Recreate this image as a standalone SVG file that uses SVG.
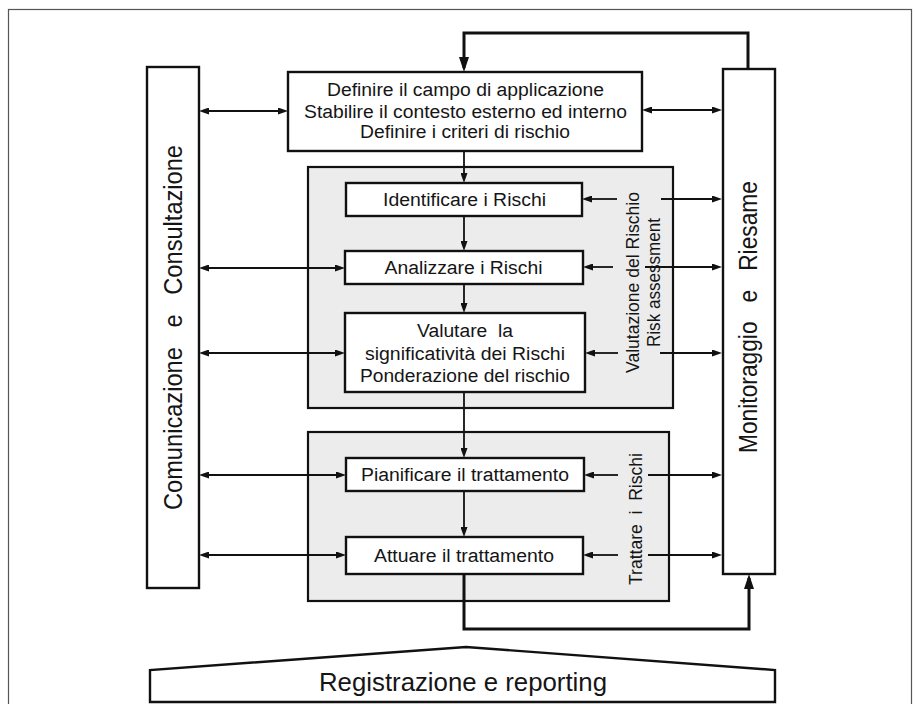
<svg xmlns="http://www.w3.org/2000/svg" width="915" height="704" viewBox="0 0 915 704">
<style>
.box{fill:#fff;stroke:#111;stroke-width:2.4}
.grp{fill:#ececec;stroke:#111;stroke-width:2.2}
.t{font-family:"Liberation Sans",Arial,Helvetica,sans-serif;fill:#151515;font-size:18px;text-anchor:middle;white-space:pre}
.big{font-size:25px}
.c{fill:none;stroke:#111;stroke-width:1.8}
.ct{fill:none;stroke:#111;stroke-width:3}
</style>
<defs>
<marker id="ah" markerUnits="userSpaceOnUse" markerWidth="10" markerHeight="7" refX="7" refY="3.5" orient="auto-start-reverse"><path d="M0,0 L10,3.5 L0,7 z" fill="#111"/></marker>
<marker id="ahb" markerUnits="userSpaceOnUse" markerWidth="15" markerHeight="10" refX="11" refY="5" orient="auto-start-reverse"><path d="M0,0 L15,5 L0,10 z" fill="#111"/></marker>
</defs>
<rect x="8.5" y="9.5" width="903" height="700" fill="none" stroke="#555" stroke-width="1.2"/>

<g id="comunicazione">
<rect class="box" x="147" y="67" width="52" height="521"/>
<text class="t big" xml:space="preserve" transform="translate(182,327.5) rotate(-90)" textLength="365" lengthAdjust="spacingAndGlyphs">Comunicazione   e   Consultazione</text>
</g>
<g id="monitoraggio">
<rect class="box" x="723" y="69" width="52" height="505"/>
<text class="t big" xml:space="preserve" transform="translate(757,317) rotate(-90)" textLength="272" lengthAdjust="spacingAndGlyphs">Monitoraggio   e   Riesame</text>
</g>
<g id="contesto">
<rect class="box" x="288" y="72" width="354" height="79"/>
<text class="t" x="465.5" y="96" textLength="277" lengthAdjust="spacingAndGlyphs">Definire il campo di applicazione</text>
<text class="t" x="465.5" y="117.5" textLength="323" lengthAdjust="spacingAndGlyphs">Stabilire il contesto esterno ed interno</text>
<text class="t" x="465" y="138" textLength="210" lengthAdjust="spacingAndGlyphs">Definire i criteri di rischio</text>
</g>
<g id="valutazione">
<rect class="grp" x="308" y="167" width="365" height="241"/>
<text class="t" transform="translate(639,282.5) rotate(-90)" textLength="181" lengthAdjust="spacingAndGlyphs">Valutazione del Rischio</text>
<text class="t" transform="translate(660,282.5) rotate(-90)" textLength="129" lengthAdjust="spacingAndGlyphs">Risk assessment</text>
</g>
<g id="identificare">
<rect class="box" x="346" y="183" width="236" height="33"/>
<text class="t" x="464.5" y="206" textLength="163" lengthAdjust="spacingAndGlyphs">Identificare i Rischi</text>
</g>
<g id="analizzare">
<rect class="box" x="345" y="251" width="238" height="33"/>
<text class="t" x="463.5" y="274" textLength="158" lengthAdjust="spacingAndGlyphs">Analizzare i Rischi</text>
</g>
<g id="valutare">
<rect class="box" x="345" y="313" width="240" height="79"/>
<text class="t" xml:space="preserve" x="465" y="337" textLength="96" lengthAdjust="spacingAndGlyphs">Valutare  la</text>
<text class="t" x="465" y="359.5" textLength="200" lengthAdjust="spacingAndGlyphs">significatività dei Rischi</text>
<text class="t" x="465" y="381.5" textLength="210" lengthAdjust="spacingAndGlyphs">Ponderazione del rischio</text>
</g>
<g id="trattare">
<rect class="grp" x="308" y="432" width="361" height="169"/>
<text class="t" xml:space="preserve" transform="translate(642,519) rotate(-90)" textLength="132" lengthAdjust="spacingAndGlyphs">Trattare  i  Rischi</text>
</g>
<g id="pianificare">
<rect class="box" x="346" y="458" width="238" height="33"/>
<text class="t" x="465" y="481" textLength="208" lengthAdjust="spacingAndGlyphs">Pianificare il trattamento</text>
</g>
<g id="attuare">
<rect class="box" x="346" y="537" width="237" height="37"/>
<text class="t" x="464" y="562" textLength="180" lengthAdjust="spacingAndGlyphs">Attuare il trattamento</text>
</g>
<g id="registrazione">
<polygon points="150,702 150,670 466,647 775,670 775,702" fill="#fff" stroke="#111" stroke-width="2.4"/>
<text class="t" style="font-size:25px" x="463" y="691" textLength="288" lengthAdjust="spacingAndGlyphs">Registrazione e reporting</text>
</g>

<g id="connectors">
<path class="ct" d="M748,69 V33 H464 V68" marker-end="url(#ahb)"/>
<path class="ct" d="M464,574 V629 H749 V578" marker-end="url(#ahb)"/>
<path class="c" d="M464,151 V180" marker-end="url(#ah)"/>
<path class="c" d="M464,216 V248" marker-end="url(#ah)"/>
<path class="c" d="M464,284 V310" marker-end="url(#ah)"/>
<path class="c" d="M464,392 V455" marker-end="url(#ah)"/>
<path class="c" d="M464,491 V534" marker-end="url(#ah)"/>
<path class="c" d="M202,111 H285" marker-start="url(#ah)" marker-end="url(#ah)"/>
<path class="c" d="M202,268 H342" marker-start="url(#ah)" marker-end="url(#ah)"/>
<path class="c" d="M202,353 H342" marker-start="url(#ah)" marker-end="url(#ah)"/>
<path class="c" d="M202,475 H343" marker-start="url(#ah)" marker-end="url(#ah)"/>
<path class="c" d="M202,555 H343" marker-start="url(#ah)" marker-end="url(#ah)"/>
<path class="c" d="M645,110 H719" marker-start="url(#ah)" marker-end="url(#ah)"/>
<path class="c" d="M617,199 H585" marker-end="url(#ah)"/>
<path class="c" d="M661,199 H719" marker-end="url(#ah)"/>
<path class="c" d="M613,267 H586" marker-end="url(#ah)"/>
<path class="c" d="M645,267 H719" marker-end="url(#ah)"/>
<path class="c" d="M618,353 H588" marker-end="url(#ah)"/>
<path class="c" d="M660,353 H719" marker-end="url(#ah)"/>
<path class="c" d="M618,475 H587" marker-end="url(#ah)"/>
<path class="c" d="M648,475 H719" marker-end="url(#ah)"/>
<path class="c" d="M618,555 H586" marker-end="url(#ah)"/>
<path class="c" d="M648,555 H719" marker-end="url(#ah)"/>
</g>
</svg>
